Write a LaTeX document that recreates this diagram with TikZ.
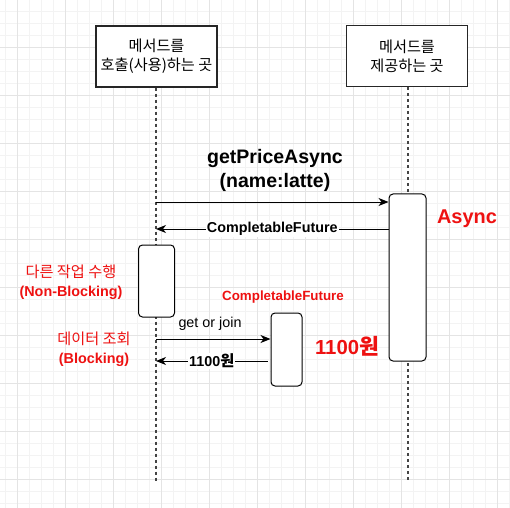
\documentclass[tikz,border=0pt]{standalone}
\usepackage{fontspec}
\setmainfont{Liberation Sans}
\newfontfamily\kr[Scale=1.06]{Noto Sans CJK KR}
\usetikzlibrary{arrows.meta}
\definecolor{gridmajor}{HTML}{E4E4E4}
\definecolor{gridminor}{HTML}{F3F3F3}
\definecolor{redtxt}{HTML}{EE1111}
\definecolor{lifegray}{HTML}{444444}
\tikzset{
  actor/.style={draw=black!85, line width=1.2bp, fill=white, minimum width=121bp, minimum height=61bp, align=center, font=\kr\fontsize{14.4}{19}\selectfont},
  actbox/.style={draw=black, line width=1bp, fill=white, rounded corners=4bp, inner sep=0pt},
  lifeline/.style={draw=lifegray, line width=2bp, dash pattern=on 3bp off 3bp},
  msg/.style={draw=black, line width=1bp, -{Stealth[length=10bp,width=8bp,inset=3bp]}},
  msglabel/.style={fill=white, inner sep=1pt, font=\bfseries\fontsize{14.4}{17}\selectfont},
  redlabel/.style={text=redtxt, align=center, font=\bfseries\fontsize{14.4}{19}\selectfont},
}
\begin{document}
\begin{tikzpicture}[x=1bp,y=-1bp]
\useasboundingbox (0,0) rectangle (510,508);
\fill[white] (0,0) rectangle (510,508);
% grid
\foreach \i in {0,...,42} {\draw[gridminor, line width=1bp] ({5.5+12*\i},0) -- ({5.5+12*\i},508);}
\foreach \i in {0,...,41} {\draw[gridminor, line width=1bp] (0,{11.5+12*\i}) -- (510,{11.5+12*\i});}
\foreach \i in {0,...,10} {\draw[gridmajor, line width=1bp] ({17.5+48*\i},0) -- ({17.5+48*\i},508);}
\foreach \i in {0,...,9} {\draw[gridmajor, line width=1bp] (0,{47.5+48*\i}) -- (510,{47.5+48*\i});}

% actors
\node[actor] (A) at (156.5,56.5) {메서드를\\호출(사용)하는 곳};
\node[actor] (B) at (407,56) {메서드를\\제공하는 곳};

% lifelines
\coordinate (Aend) at (156,482);
\coordinate (Bend) at (408,482);
\draw[lifeline] (A.south -| Aend) -- (Aend);
\draw[lifeline] (B.south -| Bend) -- (Bend);

% activations
\node[actbox, minimum width=37bp, minimum height=167bp] (R) at (407.5,277.5) {};
\node[actbox, minimum width=36bp, minimum height=72bp] (L) at (156.5,281) {};
\node[actbox, minimum width=31bp, minimum height=73bp] (M) at (286.5,349.5) {};

% messages
\coordinate (m1) at (156,202);
\coordinate (m2) at (156,229);
\coordinate (m3) at (156,339);
\coordinate (m4) at (156,361);
\draw[msg] (m1) -- (R.west |- m1);
\draw[msg] (R.west |- m2) -- node[msglabel] {CompletableFuture} (m2);
\draw[msg] (m3) -- (M.west |- m3);
\draw[msg] ([xshift=-3bp]M.west |- m4) -- node[msglabel] {1100{\kr 원}} (m4);

% labels
\node[font=\bfseries\fontsize{19.6}{24}\selectfont, align=center] (t1) at (275,170) {getPriceAsync\\(name:latte)};
\node[font=\fontsize{14.4}{17}\selectfont] (t2) at (210,324) {get or join};
\node[redlabel, font=\bfseries\fontsize{20}{24}\selectfont] (t3) at (467,219) {Async};
\node[redlabel] (t4) at (71,282) {{\kr\mdseries 다른 작업 수행}\\(Non-Blocking)};
\node[redlabel] (t5) at (94,349) {{\kr\mdseries 데이터 조회}\\(Blocking)};
\node[redlabel, font=\bfseries\fontsize{13.4}{16}\selectfont] (t6) at (283,297) {CompletableFuture};
\node[redlabel, font=\bfseries\fontsize{20.4}{24}\selectfont] (t7) at (347,346) {1100{\kr 원}};
\end{tikzpicture}
\end{document}
